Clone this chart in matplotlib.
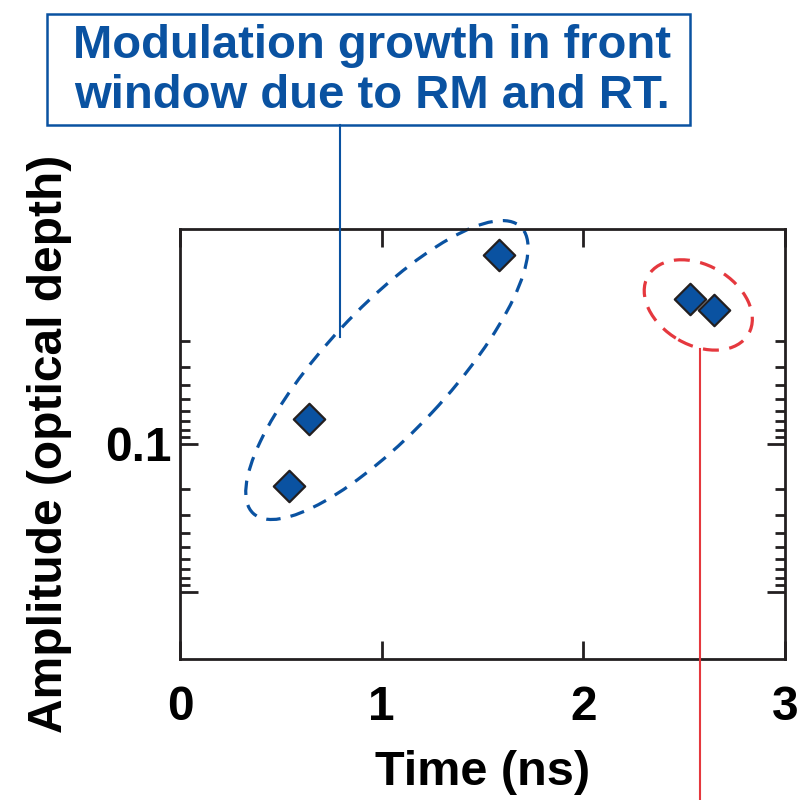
import matplotlib
matplotlib.use('Agg')
from matplotlib import pyplot as plt
from matplotlib.patches import Ellipse, Rectangle
from matplotlib.lines import Line2D
from matplotlib.ticker import FixedLocator, NullFormatter, FixedFormatter

# data
times = [0.54, 0.64, 1.58, 2.53, 2.65]
amps = [0.052, 0.147, 1.89, 0.95, 0.80]

major_ticks = [0.01, 0.1]
major_labels = ['', '0.1']
minor_ticks = [1.0 / k for k in range(2, 10)] + [0.1 / k for k in range(2, 10)]

box_text = 'Modulation growth in front\nwindow due to RM and RT.'

blue = '#0a52a1'
red = '#e5383e'
dark = '#231f20'
font = ['Liberation Sans', 'DejaVu Sans']

plt.rcParams['font.family'] = font
plt.rcParams['font.weight'] = 'bold'

fig = plt.figure(figsize=(8, 8), dpi=100)
ax = fig.add_axes([0.225, 0.17625, 0.75625, 0.5375])

ax.scatter(times, amps, marker='D', s=16 ** 2, color=blue,
           edgecolor=dark, linewidth=1.6, zorder=3, clip_on=False)

ax.set_xlim(0, 3)
ax.set_yscale('log')
ax.set_ylim(0.003526, 2.836)

ax.set_xticks([0, 1, 2, 3])
ax.set_xticklabels(['0', '1', '2', '3'])
ax.yaxis.set_major_locator(FixedLocator(major_ticks))
ax.yaxis.set_major_formatter(FixedFormatter(major_labels))
ax.yaxis.set_minor_locator(FixedLocator(minor_ticks))
ax.yaxis.set_minor_formatter(NullFormatter())

ax.tick_params(axis='both', which='major', direction='in', length=13,
               width=2.0, color=dark, labelsize=34.5, top=True, right=True)
ax.tick_params(axis='x', which='major', pad=19)
ax.tick_params(axis='y', which='major', pad=6)
ax.tick_params(axis='y', which='minor', direction='in', length=7.5,
               width=2.0, color=dark, right=True)
for s in ax.spines.values():
    s.set_linewidth(2.0)
    s.set_color(dark)

ax.set_xlabel('Time (ns)', fontsize=35, fontweight='bold', labelpad=14)
ax.set_ylabel('Amplitude (optical depth)', fontsize=34.5, fontweight='bold',
              labelpad=24)

# ellipses drawn in inches so they keep their shape on the log axis
def ring(cx, cy, w, h, angle, color, dashes):
    px, py = ax.transData.transform((cx, cy))
    e = Ellipse((px / fig.dpi, py / fig.dpi), w / fig.dpi, h / fig.dpi,
                angle=angle, transform=fig.dpi_scale_trans, fill=False,
                edgecolor=color, linewidth=2.3, linestyle=(0, dashes),
                clip_on=False, zorder=2)
    ax.add_patch(e)

ring(1.026, 0.316, 392, 124, 47, blue, (4.5, 3.2))
ring(2.57, 0.87, 116, 80, -30, red, (5, 3.3))

# label box and leader lines (figure pixels, origin top-left)
W = H = 800.0
fig.patches.append(Rectangle((47 / W, 1 - 125 / H), 643 / W, 111 / H,
                             transform=fig.transFigure, fill=False,
                             edgecolor=blue, linewidth=1.8))
fig.text(372 / W, 1 - 71 / H, box_text, ha='center', va='center',
         fontsize=34, fontweight='bold', color=blue, linespacing=1.2)
fig.lines.append(Line2D([340 / W, 340 / W], [1 - 125 / H, 1 - 337 / H],
                        transform=fig.transFigure, color=blue, linewidth=1.5))
fig.lines.append(Line2D([700 / W, 700 / W], [1 - 349 / H, 0.0],
                        transform=fig.transFigure, color=red, linewidth=1.5))

fig.savefig('out.png', dpi=100)
